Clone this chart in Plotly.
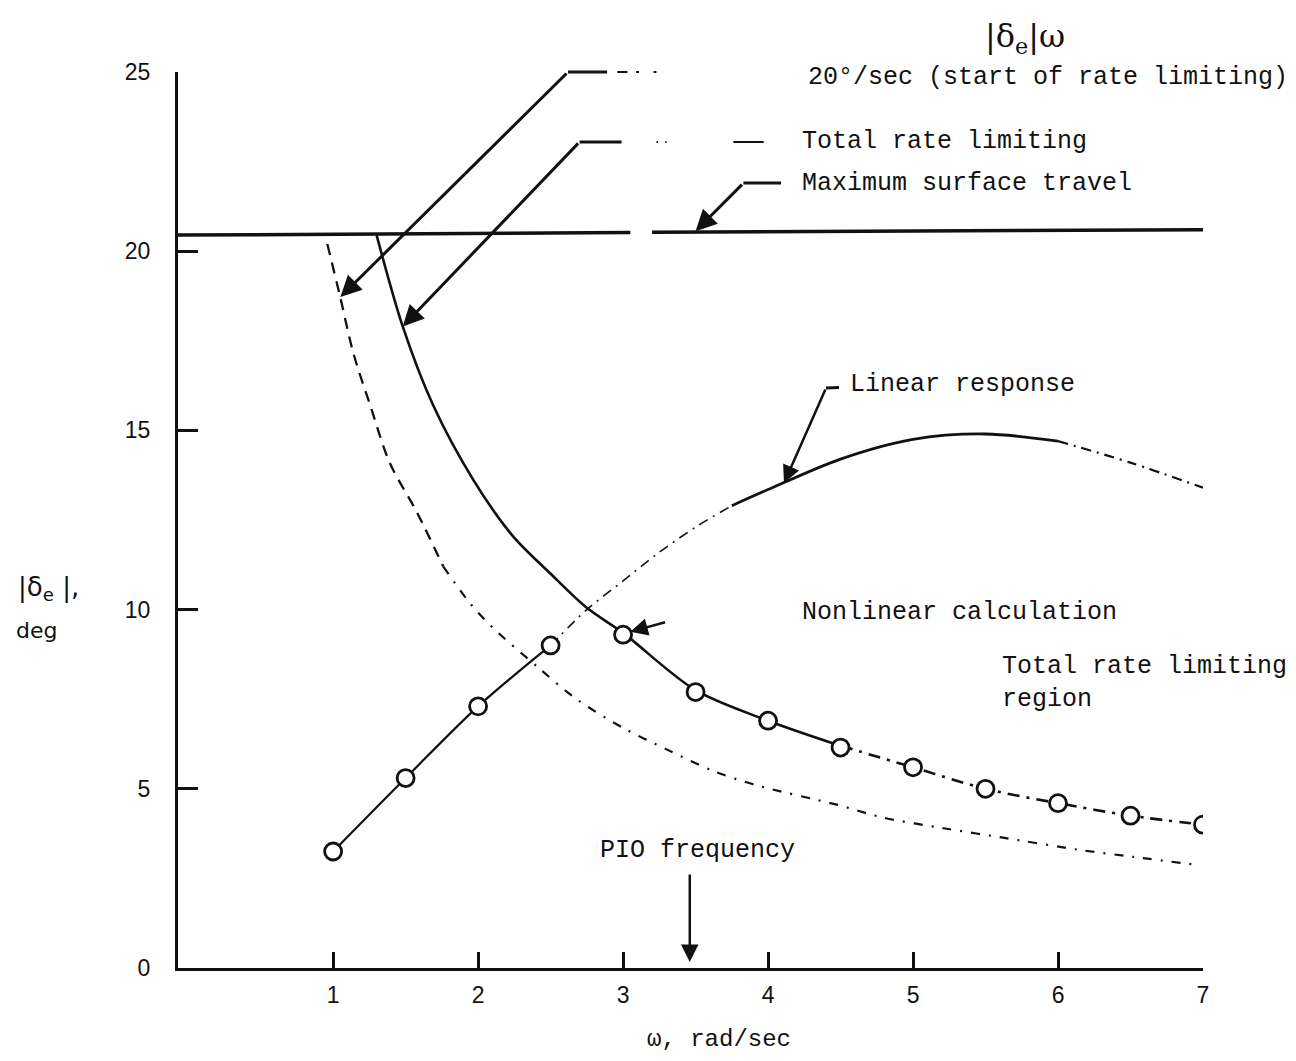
import plotly.graph_objects as go

# ---------------- data ----------------
# Nonlinear calculation (open circles)
nl_w = [1, 1.5, 2, 2.5, 3, 3.5, 4, 4.5, 5, 5.5, 6, 6.5, 7]
nl_d = [3.25, 5.3, 7.3, 9.0, 9.3, 7.7, 6.9, 6.15, 5.6, 5.0, 4.6, 4.25, 4.0]

# Linear response
lin_w = [1, 1.5, 2, 2.5, 2.75, 3, 3.25, 3.5, 3.75, 4, 4.5, 5, 5.5, 6, 6.5, 7]
lin_d = [3.25, 5.3, 7.3, 9.0, 10.0, 10.8, 11.6, 12.3, 12.9, 13.35, 14.2, 14.75, 14.9, 14.7, 14.1, 13.4]

# Total rate limiting
trl_w = [1.30, 1.48, 1.69, 1.97, 2.24, 2.5, 2.75, 3.0, 3.5, 4.0, 4.5, 5.0, 5.5, 6.0, 6.5, 7.0]
trl_d = [20.45, 17.9, 15.7, 13.6, 12.05, 11.0, 10.05, 9.35, 7.75, 6.9, 6.2, 5.6, 5.0, 4.6, 4.25, 4.0]

# |delta_e| omega = 20 deg/sec (start of rate limiting)
srl_w = [0.96, 1.05, 1.14, 1.26, 1.39, 1.58, 1.76, 1.94, 2.10, 2.41, 2.68, 3.0, 3.3,
         3.62, 3.92, 4.48, 4.79, 5.21, 5.6, 6.14, 6.52, 6.97]
srl_d = [20.2, 18.7, 17.15, 15.65, 14.1, 12.7, 11.2, 10.2, 9.5, 8.4, 7.5, 6.7, 6.1,
         5.5, 5.1, 4.55, 4.2, 3.9, 3.65, 3.3, 3.1, 2.87]

# Maximum surface travel (with the small break seen in the original)
max_w = [-0.07, 3.05, None, 3.2, 7.0]
max_d = [20.45, 20.52, None, 20.53, 20.6]

x_ticks = [1, 2, 3, 4, 5, 6, 7]
y_ticks = [0, 5, 10, 15, 20, 25]

PIO_W = 3.46

MONO = "Liberation Mono"
SANS = "Liberation Sans"
BLACK = "#111111"


def segment(xs, ys, lo, hi):
    px, py = [], []
    for a, b in zip(xs, ys):
        if lo - 1e-9 <= a <= hi + 1e-9:
            px.append(a)
            py.append(b)
    return px, py


fig = go.Figure()


def add_line(xs, ys, lo, hi, dash, width, spline=True):
    px, py = segment(xs, ys, lo, hi)
    fig.add_trace(go.Scatter(
        x=px, y=py, mode="lines", showlegend=False, hoverinfo="skip",
        line=dict(color=BLACK, width=width, dash=dash,
                  shape="spline" if spline else "linear", smoothing=0.9)))


# maximum surface travel
fig.add_trace(go.Scatter(x=max_w, y=max_d, mode="lines", showlegend=False,
                         hoverinfo="skip", connectgaps=False,
                         line=dict(color=BLACK, width=3.5)))

# start of rate limiting curve
add_line(srl_w, srl_d, 0.96, 1.76, "11px,8px", 2.3)
add_line(srl_w, srl_d, 1.76, 6.97, "9px,9px,2px,9px", 2.2)

# total rate limiting curve
add_line(trl_w, trl_d, 1.30, 4.5, "solid", 2.6)
add_line(trl_w, trl_d, 4.5, 7.0, "12px,7px,3px,7px", 2.6)

# linear response
add_line(lin_w, lin_d, 1.0, 2.5, "solid", 2.2)
add_line(lin_w, lin_d, 2.5, 3.75, "10px,6px,2px,6px", 1.6)
add_line(lin_w, lin_d, 3.75, 6.0, "solid", 2.8)
add_line(lin_w, lin_d, 6.0, 7.0, "10px,6px,2px,6px", 2.2)

# nonlinear calculation points
fig.add_trace(go.Scatter(
    x=nl_w, y=nl_d, mode="markers", showlegend=False, hoverinfo="skip",
    marker=dict(symbol="circle", size=17, color="white",
                line=dict(color=BLACK, width=2.8))))

annotations = []


def seg_ann(x0, y0, x1, y1, head=0, width=3.0):
    annotations.append(dict(
        x=x1, y=y1, ax=x0, ay=y0, xref="x", yref="y", axref="x", ayref="y",
        text="", showarrow=True, arrowhead=head, arrowsize=1.4,
        arrowwidth=width, arrowcolor=BLACK, standoff=0, startstandoff=0))


# leader: 20 deg/sec (start of rate limiting)
seg_ann(2.90, 25.0, 2.62, 25.0)
seg_ann(2.95, 25.0, 3.03, 25.0, width=2)
seg_ann(3.08, 25.0, 3.11, 25.0, width=2)
seg_ann(3.20, 25.0, 3.23, 25.0, width=2)
seg_ann(2.62, 25.0, 1.05, 18.72, head=2)
# leader: total rate limiting
seg_ann(3.00, 23.05, 2.70, 23.05)
seg_ann(3.22, 23.05, 3.24, 23.05, width=2)
seg_ann(3.28, 23.05, 3.30, 23.05, width=2)
seg_ann(3.75, 23.05, 3.97, 23.05, width=2)
seg_ann(2.70, 23.05, 1.48, 17.9, head=2)
# leader: maximum surface travel
seg_ann(4.10, 21.9, 3.83, 21.9)
seg_ann(3.83, 21.9, 3.50, 20.56, head=2)
# leader: linear response
seg_ann(4.50, 16.2, 4.40, 16.18)
seg_ann(4.40, 16.18, 4.11, 13.53, head=2, width=2.5)
# leader: nonlinear calculation
seg_ann(3.30, 9.66, 3.05, 9.38, head=2, width=2.5)
# PIO frequency arrow
seg_ann(PIO_W, 2.65, PIO_W, 0.17, head=2, width=2.5)


def text_ann(x, y, s, xref="x", yref="y", anchor="left", size=25, family=MONO):
    annotations.append(dict(
        x=x, y=y, xref=xref, yref=yref, text=s, showarrow=False,
        xanchor=anchor, yanchor="middle", align="left",
        font=dict(family=family, size=size, color=BLACK)))


text_ann(5.48, 1.038, "|δ<sub>e</sub>|ω", yref="paper", size=32, family="DejaVu Serif")
text_ann(4.26, 24.86, "20°/sec (start of rate limiting)")
text_ann(4.22, 23.07, "Total rate limiting")
text_ann(4.22, 21.90, "Maximum surface travel")
text_ann(4.55, 16.27, "Linear response")
text_ann(4.22, 9.93, "Nonlinear calculation")
text_ann(5.60, 7.95, "Total rate limiting<br>region")
text_ann(2.83, 3.29, "PIO frequency")
text_ann(3.66, -0.080, "ω, rad/sec", yref="paper", anchor="center", size=24)
text_ann(-0.158, 10.6, "|δ<sub>e</sub> |,", xref="paper", size=26, family="DejaVu Sans")
text_ann(-0.160, 9.43, "deg", xref="paper", size=22, family="DejaVu Sans")

# The page body adds an 8 px margin, so the figure is sized and offset to fit the window.
fig.update_layout(
    width=1288, height=1045,
    margin=dict(l=170, r=93, t=64, b=85),
    paper_bgcolor="white", plot_bgcolor="white",
    showlegend=False,
    annotations=annotations,
    xaxis=dict(range=[-0.07, 7.0], tickvals=x_ticks, ticktext=[str(v) for v in x_ticks],
               ticks="inside", ticklen=16, tickwidth=2.5, tickcolor=BLACK,
               showline=True, linewidth=3, linecolor=BLACK,
               showgrid=False, zeroline=False, ticklabelstandoff=4,
               tickfont=dict(family=SANS, size=23, color=BLACK)),
    yaxis=dict(range=[0, 25], tickvals=y_ticks, ticktext=[str(v) for v in y_ticks],
               ticks="inside", ticklen=20, tickwidth=2.5, tickcolor=BLACK,
               showline=True, linewidth=3, linecolor=BLACK,
               showgrid=False, zeroline=False, ticklabelstandoff=20,
               tickfont=dict(family=SANS, size=23, color=BLACK)),
)

fig.write_html("out.html")
